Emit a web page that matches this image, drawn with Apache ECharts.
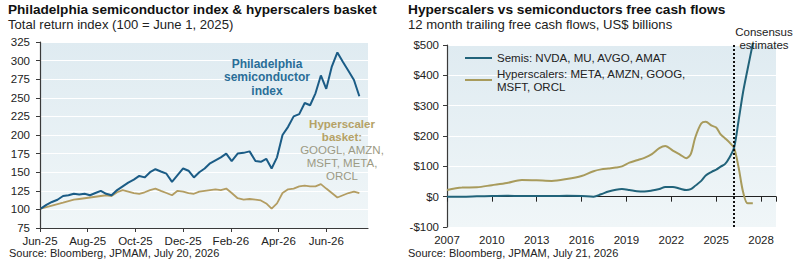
<!DOCTYPE html>
<html>
<head>
<meta charset="utf-8">
<script src="https://cdn.jsdelivr.net/npm/echarts@6/dist/echarts.min.js"></script>
<style>
html, body { margin: 0; padding: 0; background: #fff; }
#main { width: 800px; height: 269px; }
</style>
</head>
<body>
<div id="main"></div>
<script>
// ---- left panel: weekly total return index (100 = June 1, 2025)
var weekDates = [
  '2025-06-02','2025-06-09','2025-06-16','2025-06-23','2025-06-30','2025-07-07','2025-07-14','2025-07-21','2025-07-28',
  '2025-08-04','2025-08-11','2025-08-18','2025-08-25','2025-09-01','2025-09-08','2025-09-15','2025-09-22','2025-09-29',
  '2025-10-06','2025-10-13','2025-10-20','2025-10-27','2025-11-03','2025-11-10','2025-11-17','2025-11-24',
  '2025-12-01','2025-12-08','2025-12-15','2025-12-22','2025-12-29','2026-01-05','2026-01-12','2026-01-19','2026-01-26',
  '2026-02-02','2026-02-09','2026-02-16','2026-02-23','2026-03-02','2026-03-09','2026-03-16','2026-03-23','2026-03-30',
  '2026-04-06','2026-04-13','2026-04-20','2026-04-27','2026-05-04','2026-05-11','2026-05-18','2026-05-25',
  '2026-06-01','2026-06-08','2026-06-15','2026-06-22','2026-06-29','2026-07-06','2026-07-13'
];
var soxIndex = [101,106,110,113,118,119,121,120,121,119,122,125,121,119,126,131,136,140,145,143,150,154,151,148,137,
  146,155,152,143,150,155,162,166,170,175,165,175,176,178,165,164,168,155,170,200,211,225,228,243,240,256,280,262,
  292,311,298,286,274,252];
var hyperIndex = [101,103,105,107,109,111,113,114,115,116,117,118,119,118,123,126,124,122,121,123,126,128,125,122,119,
  125,124,122,121,124,125,126,127,126,128,122,115,113,114,113,112,108,101,108,122,127,128,131,132,131,131,134,128,
  122,116,119,122,124,122];
var monthLabels = ['Jun-25','Aug-25','Oct-25','Dec-25','Feb-26','Apr-26','Jun-26'];

// ---- right panel: 12m trailing free cash flows, US$ bn
var fcfYears = [2007,2008,2009,2010,2011,2012,2013,2014,2015,2016,2016.8,2017.3,2017.8,2018.3,2018.7,2019.2,2019.7,
  2020.2,2020.7,2021.2,2021.6,2022.1,2022.6,2023.0,2023.3,2023.6,2024.0,2024.3,2024.7,2025.0,2025.3,2025.6,2025.9,
  2026.2,2026.5,2026.8,2027.1,2027.45];
var semisFcf = [0,0,1,2,3,2,2,2,3,2,0,8,17,23,25,22,18,17,20,25,32,32,26,22,25,36,52,70,82,89,99,108,130,162,251,
  345,420,505];
var hyperFcf = [22,30,31,38,45,55,54,52,58,68,84,90,93,96,100,112,120,128,140,160,167,152,138,127,140,195,241,247,
  234,228,205,192,178,160,96,15,-22,-22];
var estimateStart = 2026.2;

var semisName = 'Semis: NVDA, MU, AVGO, AMAT';
var hyperName = 'Hyperscalers: META, AMZN, GOOG,\nMSFT, ORCL';

function monthsFromStart(s) {
  var p = s.split('-');
  var y = +p[0], m = +p[1], d = +p[2];
  var dim = new Date(y, m, 0).getDate();
  return (y - 2025) * 12 + (m - 6) + (d - 1) / dim;
}
function pairs(xs, ys) {
  return xs.map(function (x, i) { return [x, ys[i]]; });
}
var weekX = weekDates.map(monthsFromStart);

var font = '"Liberation Sans", Arial, sans-serif';
var axisColor = '#3a3a3a';
var labelStyle = { fontSize: 11.5, color: '#222', fontFamily: font };
function plotBg() {
  return new echarts.graphic.LinearGradient(0, 0, 0, 1, [
    { offset: 0, color: '#dfebf1' },
    { offset: 1, color: '#f0f6f8' }
  ]);
}

var chart = echarts.init(document.getElementById('main'), null, { renderer: 'svg' });

var option = {
  backgroundColor: '#fff',
  animation: false,
  textStyle: { fontFamily: font },
  title: [
    { text: 'Philadelphia semiconductor index & hyperscalers basket', subtext: 'Total return index (100 = June 1, 2025)',
      left: 8, top: 2, padding: 0, itemGap: 2,
      textStyle: { fontSize: 13.6, fontWeight: 'bold', color: '#111', fontFamily: font },
      subtextStyle: { fontSize: 13.1, color: '#222', fontFamily: font } },
    { text: 'Hyperscalers vs semiconductors free cash flows', subtext: '12 month trailing free cash flows, US$ billions',
      left: 408, top: 2, padding: 0, itemGap: 2,
      textStyle: { fontSize: 13.7, fontWeight: 'bold', color: '#111', fontFamily: font },
      subtextStyle: { fontSize: 13.1, color: '#222', fontFamily: font } },
    { text: 'Source: Bloomberg, JPMAM, July 20, 2026', left: 9, top: 247, padding: 0,
      textStyle: { fontSize: 11, fontWeight: 'normal', color: '#222', fontFamily: font } },
    { text: 'Source: Bloomberg, JPMAM, July 21, 2026', left: 408, top: 247, padding: 0,
      textStyle: { fontSize: 11, fontWeight: 'normal', color: '#222', fontFamily: font } }
  ],
  legend: [
    { data: [{ name: semisName, icon: 'rect' }], left: 465, top: 51.5, padding: 0, itemWidth: 27, itemHeight: 2,
      textStyle: { fontSize: 11.5, color: '#222', lineHeight: 13 } },
    { data: [{ name: hyperName, icon: 'rect', textStyle: { padding: [13, 0, 0, 0] } }], left: 465, top: 60.5, padding: 0,
      itemWidth: 27, itemHeight: 2, textStyle: { fontSize: 11.5, color: '#222', lineHeight: 13 } }
  ],
  grid: [
    { left: 40, top: 42, width: 328, height: 186, show: true, borderWidth: 0, backgroundColor: plotBg() },
    { left: 447, top: 45, width: 329, height: 182, show: true, borderWidth: 0, backgroundColor: plotBg() }
  ],
  xAxis: [
    { gridIndex: 0, type: 'value', min: 0, max: 13.75, interval: 2,
      axisLine: { onZero: false, lineStyle: { color: axisColor, width: 1.2 } },
      axisTick: { show: true, length: 4, lineStyle: { color: axisColor } },
      axisLabel: Object.assign({ margin: 7, showMaxLabel: false,
        formatter: function (v) { return (v % 2 === 0 && monthLabels[v / 2]) ? monthLabels[v / 2] : ''; } }, labelStyle),
      splitLine: { show: false } },
    { gridIndex: 1, type: 'value', min: 2007, max: 2029, interval: 3, position: 'bottom',
      axisLine: { show: false, onZero: false }, axisTick: { show: false },
      axisLabel: Object.assign({ margin: 7,
        formatter: function (v) { return (v - 2007) % 3 === 0 ? String(v) : ''; } }, labelStyle),
      splitLine: { show: false } },
    { gridIndex: 1, type: 'value', min: 2007, max: 2029, interval: 3, position: 'bottom',
      axisLine: { show: true, onZero: true, lineStyle: { color: '#222', width: 1.2 } },
      axisTick: { show: true, length: 5, lineStyle: { color: '#222' } },
      axisLabel: { show: false }, splitLine: { show: false } }
  ],
  yAxis: [
    { gridIndex: 0, type: 'value', min: 75, max: 325, interval: 25,
      axisLine: { show: true, lineStyle: { color: axisColor, width: 1.2 } },
      axisTick: { show: true, length: 4, lineStyle: { color: axisColor } },
      axisLabel: Object.assign({ margin: 10 }, labelStyle),
      splitLine: { show: true, lineStyle: { color: '#ffffff', width: 1 } } },
    { gridIndex: 1, type: 'value', min: -100, max: 500, interval: 100,
      axisLine: { show: true, lineStyle: { color: axisColor, width: 1.2 } },
      axisTick: { show: true, length: 4, lineStyle: { color: axisColor } },
      axisLabel: Object.assign({ margin: 8,
        formatter: function (v) { return v < 0 ? '-$' + (-v) : '$' + v; } }, labelStyle),
      splitLine: { show: true, lineStyle: { color: '#ffffff', width: 1 } } }
  ],
  series: [
    { name: 'Hyperscaler basket', type: 'line', xAxisIndex: 0, yAxisIndex: 0, data: pairs(weekX, hyperIndex),
      symbol: 'none', lineStyle: { color: '#b39d62', width: 1.8 } },
    { name: 'Philadelphia semiconductor index', type: 'line', xAxisIndex: 0, yAxisIndex: 0, data: pairs(weekX, soxIndex),
      symbol: 'none', lineStyle: { color: '#1b5c86', width: 2 } },
    { name: hyperName, type: 'line', xAxisIndex: 1, yAxisIndex: 1, data: pairs(fcfYears, hyperFcf),
      symbol: 'none', smooth: 0.3, color: '#a89b5c', lineStyle: { color: '#a89b5c', width: 2 } },
    { name: semisName, type: 'line', xAxisIndex: 1, yAxisIndex: 1, data: pairs(fcfYears, semisFcf),
      symbol: 'none', smooth: 0.3, color: '#21637a', lineStyle: { color: '#21637a', width: 2 },
      markLine: { silent: true, symbol: ['none', 'none'], label: { show: false },
        lineStyle: { type: 'dotted', color: '#111', width: 2 }, data: [{ xAxis: estimateStart }] } }
  ],
  graphic: [
    { type: 'text', z: 100, x: 267, y: 57, style: { text: 'Philadelphia\nsemiconductor\nindex', align: 'center',
      verticalAlign: 'top', font: 'bold 12px ' + font, fill: '#2a6e98', lineHeight: 13.5 } },
    { type: 'text', z: 100, x: 342, y: 117.5, style: { text: 'Hyperscaler\nbasket:', align: 'center',
      verticalAlign: 'top', font: 'bold 11.5px ' + font, fill: '#b5a266', lineHeight: 13 } },
    { type: 'text', z: 100, x: 342, y: 143.5, style: { text: 'GOOGL, AMZN,\nMSFT, META,\nORCL', align: 'center',
      verticalAlign: 'top', font: '11.5px ' + font, fill: '#9c9a84', lineHeight: 13 } },
    { type: 'text', z: 100, x: 764, y: 25.5, style: { text: 'Consensus\nestimates', align: 'center',
      verticalAlign: 'top', font: '11.5px ' + font, fill: '#222', lineHeight: 13 } }
  ]
};
chart.setOption(option);
</script>
</body>
</html>
